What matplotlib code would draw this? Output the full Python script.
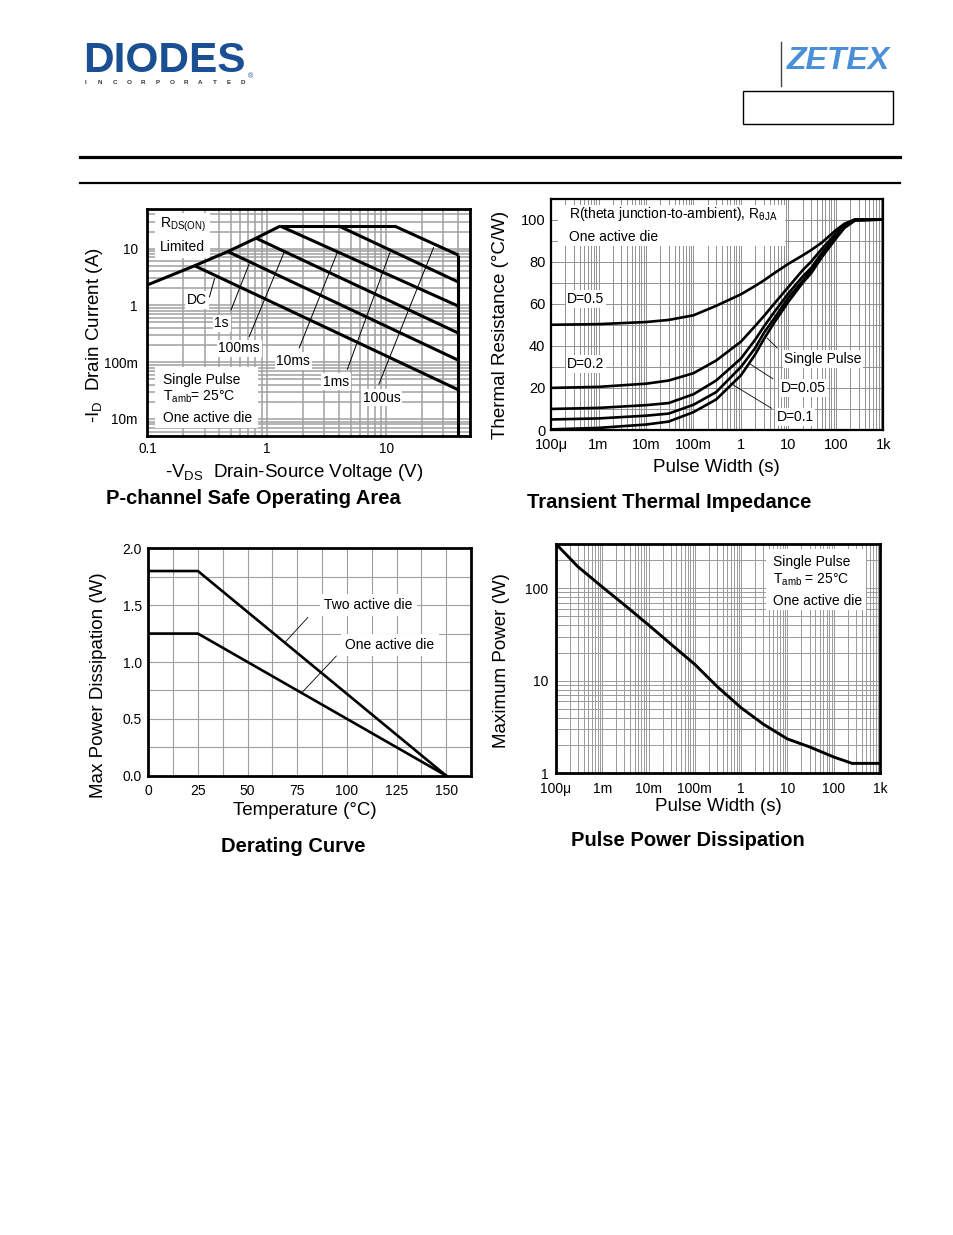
import matplotlib
matplotlib.use('Agg')
import matplotlib.pyplot as plt
from matplotlib.ticker import FixedLocator, FixedFormatter, LogLocator, NullFormatter, MultipleLocator
from matplotlib.lines import Line2D
from matplotlib.patches import Rectangle
from matplotlib import font_manager

plt.rcParams['font.family'] = ['Liberation Sans', 'DejaVu Sans']
plt.rcParams['mathtext.default'] = 'regular'

# ---------------- data ----------------
# P-channel Safe Operating Area (V in volts, I in amps)
soa_rds_v = [0.1, 0.248, 0.47, 0.81, 1.29]
soa_rds_i = [2.3, 5.0, 8.9, 15.3, 25.0]
soa_top_v = [1.29, 11.7]
soa_top_i = [25.0, 25.0]
soa_vmax_v = [40.0, 40.0]
soa_vmax_i = [7.7, 0.005]
soa_dc_v, soa_dc_i = [0.248, 40.0], [5.0, 0.0325]
soa_1s_v, soa_1s_i = [0.47, 40.0], [8.9, 0.108]
soa_100ms_v, soa_100ms_i = [0.81, 40.0], [15.3, 0.325]
soa_10ms_v, soa_10ms_i = [1.29, 40.0], [25.0, 0.97]
soa_1ms_v, soa_1ms_i = [4.0, 40.0], [25.0, 2.58]
soa_100us_v, soa_100us_i = [11.7, 40.0], [25.0, 7.7]
soa_xticks = [0.1, 1, 10]
soa_xticklabels = ['0.1', '1', '10']
soa_yticks = [0.01, 0.1, 1, 10]
soa_yticklabels = ['10m', '100m', '1', '10']

# Transient thermal impedance (pulse width s, degC/W)
tt_t = [1e-4, 1e-3, 1e-2, 3e-2, 0.1, 0.3, 1, 2, 3, 5, 10, 20, 30, 50, 100, 150, 250, 1000]
tt_single = [0.3, 1.0, 2.6, 4.0, 8.5, 14.5, 26, 36, 43, 51, 61, 70, 74.5, 82, 91, 96, 99.5, 100]
tt_d005 = [5, 5.5, 6.8, 7.8, 12, 18, 30, 39, 46, 53, 63, 71, 76, 83, 92, 96.5, 99.7, 100]
tt_d01 = [10, 10.5, 11.8, 12.8, 17, 23.5, 34, 43, 49, 56, 65, 73, 77, 84, 92.5, 97, 99.8, 100]
tt_d02 = [20, 20.5, 22, 23.5, 27, 33, 42, 49.5, 54, 60, 68, 76, 80, 86, 93.5, 97.5, 100, 100]
tt_d05 = [50, 50.3, 51.3, 52.3, 54.5, 59, 64.5, 68.5, 71, 74.5, 79, 83, 85.5, 89, 95, 98, 100, 100]

time_ticks = [1e-4, 1e-3, 1e-2, 1e-1, 1, 10, 100, 1000]
time_ticklabels = ['100\u03bc', '1m', '10m', '100m', '1', '10', '100', '1k']
tt_yticks = [0, 20, 40, 60, 80, 100]

# Derating curve
der_temp = [0, 25, 150]
der_two_die = [1.8, 1.8, 0.0]
der_one_die = [1.25, 1.25, 0.0]
der_xticks = [0, 25, 50, 75, 100, 125, 150]
der_yticks = [0.0, 0.5, 1.0, 1.5, 2.0]

# Pulse power dissipation
pp_t = [1e-4, 3e-4, 1e-3, 3e-3, 1e-2, 3e-2, 0.1, 0.3, 1, 3, 10, 30, 100, 250, 1000]
pp_p = [300, 170, 103, 66, 40, 25, 15, 8.7, 5.1, 3.4, 2.35, 1.93, 1.5, 1.28, 1.28]
pp_yticks = [1, 10, 100]
pp_yticklabels = ['1', '10', '100']

# ---------------- figure ----------------
W, H = 954, 1235
fig = plt.figure(figsize=(W / 100, H / 100), dpi=100)
fig.patch.set_facecolor('white')


def add_ax(l, t, r, b):
    return fig.add_axes([l / W, 1 - b / H, (r - l) / W, (b - t) / H])


def style(ax, spine_lw=1.8, grid_color='#9a9a9a', grid_lw=0.8):
    for s in ax.spines.values():
        s.set_linewidth(spine_lw)
        s.set_color('black')
        s.set_zorder(5)
    ax.set_axisbelow(True)
    ax.grid(True, which='both', color=grid_color, linewidth=grid_lw)
    ax.tick_params(which='both', length=0, labelsize=10)


def ftext(x, y, s, **kw):
    fig.text(x / W, 1 - y / H, s, **kw)


TFS = 14.5   # title size
LFS = 13.5   # axis label size
AFS = 10     # annotation size
WB = dict(facecolor='white', edgecolor='none', pad=1.2)

# ---- header ----
ftext(83, 61, 'DIODES', fontsize=30.5, fontweight='bold', color='#1b4f93', ha='left', va='center')
for i, ch in enumerate('INCORPORATED'):
    ftext(86 + i * 14.3, 83, ch, fontsize=4.5, fontweight='bold', color='#333333', ha='center', va='center')
ftext(251, 77, '\u00ae', fontsize=5, color='#1b4f93', ha='center', va='center')

names = {f.name for f in font_manager.fontManager.ttflist}
if 'Liberation Sans Narrow' in names:
    ftext(788, 61, 'ZETEX', fontsize=30, fontweight='bold', fontstyle='italic',
          family='Liberation Sans Narrow', color='#4a90d9', ha='left', va='center')
else:
    ftext(787, 61, 'ZETEX', fontsize=23, fontweight='bold', fontstyle='italic',
          color='#4a90d9', ha='left', va='center')
fig.add_artist(Line2D([781 / W, 781 / W], [1 - 42 / H, 1 - 86 / H], color='#444444', lw=1,
                      transform=fig.transFigure))
fig.add_artist(Rectangle((743 / W, 1 - 124 / H), 150 / W, 33 / H, facecolor='none',
                         edgecolor='black', lw=1, transform=fig.transFigure))
fig.add_artist(Line2D([80 / W, 900 / W], [1 - 156.5 / H, 1 - 156.5 / H], color='black', lw=2.3,
                      transform=fig.transFigure))
fig.add_artist(Line2D([80 / W, 900 / W], [1 - 183 / H, 1 - 183 / H], color='black', lw=1.6,
                      transform=fig.transFigure))

# ---------------- SOA ----------------
ax1 = add_ax(147.5, 209, 470, 436)
ax1.set_xscale('log')
ax1.set_yscale('log')
ax1.set_xlim(0.1, 50)
ax1.set_ylim(0.005, 50)
style(ax1, spine_lw=2.0, grid_color='#a0a0a0', grid_lw=1.1)
ax1.xaxis.set_major_locator(FixedLocator(soa_xticks))
ax1.xaxis.set_major_formatter(FixedFormatter(soa_xticklabels))
ax1.yaxis.set_major_locator(FixedLocator(soa_yticks))
ax1.yaxis.set_major_formatter(FixedFormatter(soa_yticklabels))
for a in (ax1.xaxis, ax1.yaxis):
    a.set_minor_locator(LogLocator(base=10, subs=range(2, 10), numticks=20))
    a.set_minor_formatter(NullFormatter())
ax1.tick_params(labelsize=9.8)
ax1.tick_params(axis='x', pad=4)
ax1.tick_params(axis='y', pad=7)
LW1 = 2.2
for v, i in [(soa_rds_v, soa_rds_i), (soa_top_v, soa_top_i), (soa_vmax_v, soa_vmax_i),
             (soa_dc_v, soa_dc_i), (soa_1s_v, soa_1s_i), (soa_100ms_v, soa_100ms_i),
             (soa_10ms_v, soa_10ms_i), (soa_1ms_v, soa_1ms_i), (soa_100us_v, soa_100us_i)]:
    ax1.plot(v, i, color='black', lw=LW1, solid_capstyle='butt', zorder=3)
ax1.add_patch(Rectangle((0.023, 0.784), 0.171, 0.198, transform=ax1.transAxes,
                        facecolor='white', edgecolor='none', zorder=1))
ax1.add_patch(Rectangle((0.023, 0.035), 0.319, 0.269, transform=ax1.transAxes,
                        facecolor='white', edgecolor='none', zorder=1))
ax1.text(0.0388, 0.93, r'R$_{DS(ON)}$', transform=ax1.transAxes, fontsize=AFS, va='center', ha='left')
ax1.text(0.0388, 0.834, 'Limited', transform=ax1.transAxes, fontsize=AFS, va='center', ha='left')
ax1.text(0.047, 0.247, 'Single Pulse', transform=ax1.transAxes, fontsize=AFS, va='center', ha='left')
ax1.text(0.047, 0.173, r'T$_{amb}$= 25°C', transform=ax1.transAxes, fontsize=AFS, va='center', ha='left')
ax1.text(0.047, 0.079, 'One active die', transform=ax1.transAxes, fontsize=AFS, va='center', ha='left')
soa_labels = [('DC', (0.153, 0.599), (0.33, 1.41), (0.364, 2.96)),
              ('1s', (0.230, 0.496), (0.5, 0.83), (0.71, 5.4)),
              ('100ms', (0.284, 0.386), (0.71, 0.283), (1.39, 8.6)),
              ('10ms', (0.452, 0.330), (1.86, 0.178), (3.88, 8.6)),
              ('1ms', (0.585, 0.239), (4.7, 0.0743), (10.7, 8.6)),
              ('100us', (0.727, 0.169), (8.63, 0.0407), (24.8, 10.5))]
for s, pos, p0, p1 in soa_labels:
    ax1.annotate('', xy=p1, xytext=p0, arrowprops=dict(arrowstyle='-', lw=0.7, color='black',
                                                      shrinkA=0, shrinkB=0), zorder=2)
    ax1.text(pos[0], pos[1], s, transform=ax1.transAxes, fontsize=AFS, va='center', ha='center',
             bbox=WB, zorder=4)
ax1.set_xlabel(r'-V$_{DS}$  Drain-Source Voltage (V)', fontsize=LFS, va='center')
ax1.xaxis.set_label_coords(0.456, -0.159)
ax1.set_ylabel(r'-I$_D$  Drain Current (A)', fontsize=LFS, va='center')
ax1.yaxis.set_label_coords(-0.163, 0.445)
ftext(253, 498, 'P-channel Safe Operating Area', fontsize=TFS, fontweight='bold', ha='center', va='center')

# ---------------- Transient thermal ----------------
ax2 = add_ax(551, 198.5, 883.5, 430)
ax2.set_xscale('log')
ax2.set_xlim(1e-4, 1000)
ax2.set_ylim(0, 110)
style(ax2, spine_lw=1.6, grid_color='#909090', grid_lw=0.7)
ax2.xaxis.set_major_locator(FixedLocator(time_ticks))
ax2.xaxis.set_major_formatter(FixedFormatter(time_ticklabels))
ax2.xaxis.set_minor_locator(LogLocator(base=10, subs=range(2, 10), numticks=20))
ax2.xaxis.set_minor_formatter(NullFormatter())
ax2.yaxis.set_major_locator(FixedLocator(tt_yticks))
ax2.yaxis.set_minor_locator(MultipleLocator(10))
ax2.tick_params(labelsize=10.5)
ax2.tick_params(axis='x', pad=6)
ax2.tick_params(axis='y', pad=4)
for series in (tt_d05, tt_d02, tt_d01, tt_d005, tt_single):
    ax2.plot(tt_t, series, color='black', lw=1.9, zorder=3)
ax2.add_patch(Rectangle((0.021, 0.795), 0.683, 0.177, transform=ax2.transAxes,
                        facecolor='white', edgecolor='none', zorder=1))
ax2.text(0.054, 0.933, r'R(theta junction-to-ambient), R$_{θJA}$', transform=ax2.transAxes,
         fontsize=AFS, va='center', ha='left')
ax2.text(0.054, 0.834, 'One active die', transform=ax2.transAxes, fontsize=AFS, va='center', ha='left')
ax2.text(0.105, 0.566, 'D=0.5', transform=ax2.transAxes, fontsize=AFS, va='center', ha='center', bbox=WB)
ax2.text(0.105, 0.285, 'D=0.2', transform=ax2.transAxes, fontsize=AFS, va='center', ha='center', bbox=WB)
tt_labels = [('Single Pulse', (0.818, 0.307), (5.8, 38.9), (3.56, 43.7)),
             ('D=0.05', (0.758, 0.181), (4.7, 24.3), (1.45, 31.8)),
             ('D=0.1', (0.734, 0.056), (4.4, 10.3), (0.6, 22.2))]
for s, pos, p0, p1 in tt_labels:
    ax2.annotate('', xy=p1, xytext=p0, arrowprops=dict(arrowstyle='-', lw=0.6, color='black',
                                                      shrinkA=0, shrinkB=0), zorder=2)
    ax2.text(pos[0], pos[1], s, transform=ax2.transAxes, fontsize=AFS, va='center', ha='center',
             bbox=WB, zorder=4)
ax2.set_xlabel('Pulse Width (s)', fontsize=LFS, va='center')
ax2.xaxis.set_label_coords(0.496, -0.160)
ax2.set_ylabel('Thermal Resistance (°C/W)', fontsize=LFS, va='center')
ax2.yaxis.set_label_coords(-0.153, 0.454)
ftext(669, 502, 'Transient Thermal Impedance', fontsize=TFS, fontweight='bold', ha='center', va='center')

# ---------------- Derating ----------------
ax3 = add_ax(148.3, 548.3, 471, 775.7)
ax3.set_xlim(0, 162.5)
ax3.set_ylim(0, 2.0)
style(ax3, spine_lw=2.0, grid_color='#a0a0a0', grid_lw=0.8)
ax3.xaxis.set_major_locator(FixedLocator(der_xticks))
ax3.xaxis.set_minor_locator(MultipleLocator(12.5))
ax3.yaxis.set_major_locator(FixedLocator(der_yticks))
ax3.yaxis.set_major_formatter(FixedFormatter(['%.1f' % v for v in der_yticks]))
ax3.yaxis.set_minor_locator(MultipleLocator(0.25))
ax3.tick_params(axis='x', pad=6)
ax3.tick_params(axis='y', pad=4.5)
ax3.plot(der_temp, der_two_die, color='black', lw=1.9, zorder=3)
ax3.plot(der_temp, der_one_die, color='black', lw=1.9, zorder=3)
ax3.annotate('', xy=(68.7, 1.17), xytext=(80.4, 1.393),
             arrowprops=dict(arrowstyle='-', lw=0.6, color='black', shrinkA=0, shrinkB=0))
ax3.annotate('', xy=(77.6, 0.735), xytext=(94.7, 1.053),
             arrowprops=dict(arrowstyle='-', lw=0.6, color='black', shrinkA=0, shrinkB=0))
ax3.text(0.682, 0.751, 'Two active die', transform=ax3.transAxes, fontsize=AFS, va='center',
         ha='center', bbox=dict(facecolor='white', edgecolor='none', pad=3))
ax3.text(0.749, 0.575, 'One active die', transform=ax3.transAxes, fontsize=AFS, va='center',
         ha='center', bbox=dict(facecolor='white', edgecolor='none', pad=3))
ax3.set_xlabel('Temperature (°C)', fontsize=LFS, va='center')
ax3.xaxis.set_label_coords(0.486, -0.155)
ax3.set_ylabel('Max Power Dissipation (W)', fontsize=LFS, va='center')
ax3.yaxis.set_label_coords(-0.153, 0.399)
ftext(293, 847, 'Derating Curve', fontsize=TFS, fontweight='bold', ha='center', va='center')

# ---------------- Pulse power ----------------
ax4 = add_ax(556, 544, 880, 773.3)
ax4.set_xscale('log')
ax4.set_yscale('log')
ax4.set_xlim(1e-4, 1000)
ax4.set_ylim(1, 300)
style(ax4, spine_lw=2.0, grid_color='#9a9a9a', grid_lw=0.7)
ax4.xaxis.set_major_locator(FixedLocator(time_ticks))
ax4.xaxis.set_major_formatter(FixedFormatter(time_ticklabels))
ax4.yaxis.set_major_locator(FixedLocator(pp_yticks))
ax4.yaxis.set_major_formatter(FixedFormatter(pp_yticklabels))
for a in (ax4.xaxis, ax4.yaxis):
    a.set_minor_locator(LogLocator(base=10, subs=range(2, 10), numticks=20))
    a.set_minor_formatter(NullFormatter())
ax4.tick_params(axis='x', pad=6)
ax4.tick_params(axis='y', pad=5.5)
ax4.plot(pp_t, pp_p, color='black', lw=2.1, zorder=3)
ax4.add_patch(Rectangle((0.648, 0.712), 0.309, 0.266, transform=ax4.transAxes,
                        facecolor='white', edgecolor='none', zorder=1))
ax4.text(0.670, 0.921, 'Single Pulse', transform=ax4.transAxes, fontsize=AFS, va='center', ha='left')
ax4.text(0.670, 0.843, r'T$_{amb}$ = 25°C', transform=ax4.transAxes, fontsize=AFS, va='center', ha='left')
ax4.text(0.670, 0.751, 'One active die', transform=ax4.transAxes, fontsize=AFS, va='center', ha='left')
ax4.set_xlabel('Pulse Width (s)', fontsize=LFS, va='center')
ax4.xaxis.set_label_coords(0.5, -0.146)
ax4.set_ylabel('Maximum Power (W)', fontsize=LFS, va='center')
ax4.yaxis.set_label_coords(-0.167, 0.490)
ftext(688, 841, 'Pulse Power Dissipation', fontsize=TFS, fontweight='bold', ha='center', va='center')

fig.savefig('out.png', dpi=100, facecolor='white')
